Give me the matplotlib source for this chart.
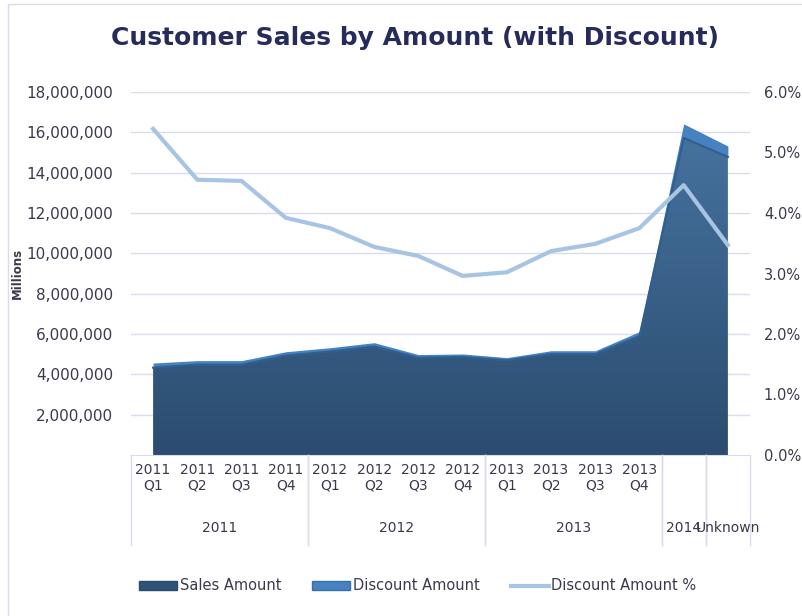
import numpy as np
import matplotlib.pyplot as plt
from matplotlib.patches import Rectangle, Patch
from matplotlib.lines import Line2D
from matplotlib.colors import LinearSegmentedColormap
import matplotlib.transforms as mtransforms

plt.rcParams['font.family'] = ['DejaVu Sans']

# data
years = ['2011'] * 4 + ['2012'] * 4 + ['2013'] * 4 + ['2014', 'Unknown']
quarters = ['Q1', 'Q2', 'Q3', 'Q4'] * 3 + ['', '']
sales = [4.33e6, 4.48e6, 4.48e6, 4.93e6, 5.13e6, 5.38e6, 4.82e6, 4.86e6,
         4.69e6, 5.00e6, 5.00e6, 5.90e6, 15.72e6, 14.78e6]
discount = [0.23e6, 0.20e6, 0.20e6, 0.19e6, 0.19e6, 0.19e6, 0.16e6, 0.15e6,
            0.14e6, 0.17e6, 0.17e6, 0.22e6, 0.70e6, 0.54e6]
discount_pct = [5.39, 4.55, 4.53, 3.92, 3.75, 3.44, 3.29, 2.96,
                3.02, 3.37, 3.49, 3.75, 4.46, 3.47]

navy = '#262b5a'
txt = '#3a3a4c'
grid_c = '#d9dcef'

fig = plt.figure(figsize=(8.03, 6.16), dpi=100)
fig.patches.append(Rectangle((8 / 803, -0.1), 1.2, (616 - 4) / 616 + 0.1,
                             transform=fig.transFigure, fill=False,
                             edgecolor=grid_c, lw=1))

ax = fig.add_axes([131 / 803, 1 - 455 / 616, (750 - 131) / 803, (455 - 92) / 616])
x = np.arange(len(sales))
s = np.array(sales)
d = np.array(discount)

ax.set_xlim(-0.5, len(sales) - 0.5)
ax.set_ylim(0, 18e6)

# sales area with vertical gradient
poly = ax.fill_between(x, 0, s, color='none', lw=0)
cmap = LinearSegmentedColormap.from_list('g', ['#2b4c6f', '#4977a4'])
img = ax.imshow(np.linspace(0, 1, 256).reshape(-1, 1), cmap=cmap, aspect='auto',
                origin='lower', extent=[-0.5, len(sales) - 0.5, 0, 18e6], zorder=2)
img.set_clip_path(poly.get_paths()[0], transform=ax.transData)
ax.fill_between(x, s, s + d, color='#4682bf', lw=0, zorder=2)
ax.plot(x, s, color='#2f5f90', lw=1.5, zorder=3)

ax.set_yticks(np.arange(2e6, 18.1e6, 2e6))
ax.set_yticklabels(['{:,.0f}'.format(v) for v in np.arange(2e6, 18.1e6, 2e6)])
ax.grid(axis='y', color=grid_c, lw=1)
ax.set_axisbelow(True)
ax.tick_params(axis='y', length=0, pad=13, labelsize=11, labelcolor=txt)
ax.set_ylabel('Millions', fontsize=8.5, fontweight='bold', color=txt)
ax.yaxis.set_label_coords((24 - 131) / 619, 0.5)

ax.set_xticks(x)
ax.set_xticklabels([(q and y + '\n' + q) for y, q in zip(years, quarters)],
                   fontsize=10, color=txt, linespacing=1.1)
ax.tick_params(axis='x', length=0, pad=6)
for sp in ['left', 'right', 'top']:
    ax.spines[sp].set_visible(False)
ax.spines['bottom'].set_color(grid_c)

# group labels and separators below the axis
trans = mtransforms.blended_transform_factory(ax.transData, ax.transAxes)
groups = []
for i, yv in enumerate(years):
    if groups and groups[-1][0] == yv:
        groups[-1][2] = i
    else:
        groups.append([yv, i, i])
for name, a, b in groups:
    ax.text((a + b) / 2, -73 / 363, name, transform=trans, ha='center',
            va='center', fontsize=10, color=txt)
    for edge in (a - 0.5, b + 0.5):
        ax.plot([edge, edge], [0, -90 / 363], transform=trans, color=grid_c,
                lw=1, clip_on=False)

ax2 = ax.twinx()
ax2.set_ylim(0, 6)
ax2.plot(x, discount_pct, color='#a8c4e3', lw=3, solid_joinstyle='round', zorder=4)
ax2.set_yticks(np.arange(0, 6.1, 1))
ax2.set_yticklabels(['{:.1f}%'.format(v) for v in np.arange(0, 6.1, 1)])
ax2.tick_params(axis='y', length=0, pad=10, labelsize=10.5, labelcolor=txt)
for sp in ax2.spines.values():
    sp.set_visible(False)

fig.text(415 / 803, 1 - 38 / 616, 'Customer Sales by Amount (with Discount)',
         ha='center', va='center', fontsize=18, fontweight='bold', color=navy)

handles = [Patch(facecolor='#2f5478', edgecolor='#2a4a6c'),
           Patch(facecolor='#4682bf', edgecolor='#3a70a6'),
           Line2D([], [], color='#a8c4e3', lw=3)]
fig.legend(handles, ['Sales Amount', 'Discount Amount', 'Discount Amount %'],
           loc='center', bbox_to_anchor=(418 / 803, 1 - 586 / 616), ncol=3,
           frameon=False, fontsize=10.5, handlelength=2.6, handleheight=0.6,
           handletextpad=0.2, columnspacing=2.1, labelcolor=txt)

fig.savefig('out.png', dpi=100)
